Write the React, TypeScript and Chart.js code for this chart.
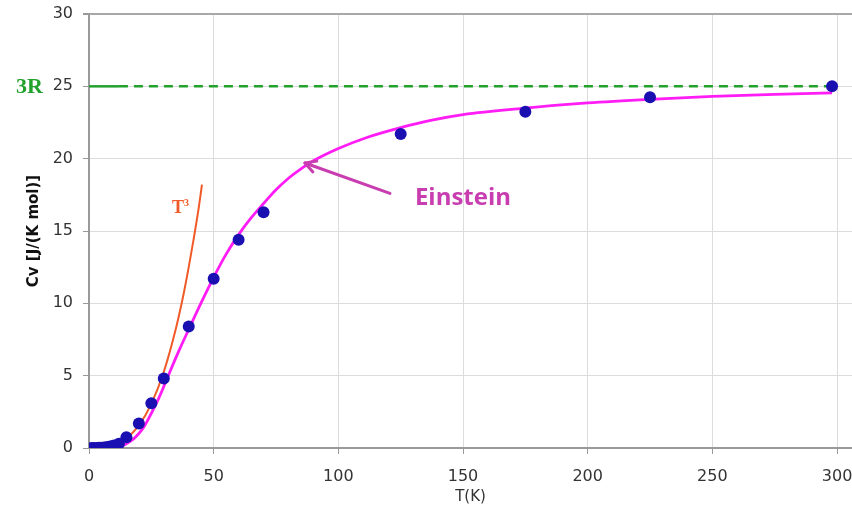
import React, { useEffect, useRef } from "react";
import { Chart, registerables } from "chart.js";

Chart.register(...registerables);

// Measured molar heat capacity, Cv [J/(K mol)] against temperature T [K]
const measuredT = [1, 2, 3, 4, 5, 6, 7, 8, 9, 10, 12, 15, 20, 25, 30, 40, 50, 60, 70, 125, 175, 225, 298];
const measuredCv = [0, 0, 0, 0.01, 0.02, 0.03, 0.05, 0.08, 0.12, 0.18, 0.3, 0.75, 1.7, 3.1, 4.8, 8.4, 11.7, 14.4, 16.3, 21.7, 23.25, 24.25, 25.0];

// Einstein model curve
const einsteinT = [0, 5, 10, 12, 15, 18, 20, 22, 25, 28, 30, 33, 36, 40, 45, 50, 55, 60, 65, 70, 75, 80, 85, 90, 100, 112, 125, 137, 150, 175, 200, 225, 250, 275, 298];
const einsteinCv = [0, 0, 0.02, 0.06, 0.3, 0.65, 1.0, 1.45, 2.4, 3.45, 4.25, 5.5, 6.7, 8.2, 10.05, 11.8, 13.4, 14.75, 15.9, 16.9, 17.85, 18.65, 19.3, 19.85, 20.7, 21.5, 22.15, 22.65, 23.05, 23.5, 23.85, 24.1, 24.3, 24.45, 24.55];

// Low-temperature T^3 law
const cubeT = [0, 5, 10, 15, 20, 25, 30, 35, 38, 40, 42, 44, 45.3];
const cubeCv = [0, 0.02, 0.2, 0.66, 1.56, 3.05, 5.27, 8.37, 10.7, 12.5, 14.47, 16.6, 18.2];

// Dulong–Petit limit, 3R
const limitT = [0, 12, 298];
const limitCv = [25, 25, 25];

const xTicks = [0, 50, 100, 150, 200, 250, 300];
const yTicks = [0, 5, 10, 15, 20, 25, 30];

const BLUE = "#1a10b2";
const MAGENTA = "#ff1cf5";
const ORANGE = "#f05a28";
const GREEN = "#23a12d";
const LABEL_PURPLE = "#c83eb0";
const TICK_FONT = { family: "'DejaVu Sans', Verdana, sans-serif", size: 16 };

// Annotation anchors in data units (T, Cv)
const notes = {
  arrowTip: { t: 86.6, cv: 19.7 },
  arrowTail: { t: 120.7, cv: 17.6 },
  einstein: { t: 130.7, cv: 17.3 },
  cube: { t: 33.3, cv: 16.25 },
};

const toPoints = (xs: number[], ys: number[]) => xs.map((x, i) => ({ x, y: ys[i] }));

const annotate = {
  id: "annotate",
  afterDatasetsDraw(chart: any) {
    const { ctx } = chart;
    const xs = chart.scales.x;
    const ys = chart.scales.y;
    const px = (t: number) => xs.getPixelForValue(t);
    const py = (v: number) => ys.getPixelForValue(v);
    ctx.save();

    // arrow to the Einstein curve
    const tx = px(notes.arrowTip.t);
    const ty = py(notes.arrowTip.cv);
    const sx = px(notes.arrowTail.t);
    const sy = py(notes.arrowTail.cv);
    ctx.strokeStyle = LABEL_PURPLE;
    ctx.lineWidth = 3;
    ctx.lineCap = "round";
    ctx.lineJoin = "round";
    ctx.beginPath();
    ctx.moveTo(sx, sy);
    ctx.lineTo(tx, ty);
    ctx.stroke();
    const ang = Math.atan2(ty - sy, tx - sx);
    const head = 12;
    ctx.beginPath();
    ctx.moveTo(tx - head * Math.cos(ang - 0.5), ty - head * Math.sin(ang - 0.5));
    ctx.lineTo(tx, ty);
    ctx.lineTo(tx - head * Math.cos(ang + 0.5), ty - head * Math.sin(ang + 0.5));
    ctx.stroke();

    ctx.fillStyle = LABEL_PURPLE;
    ctx.font = "bold 24px 'Open Sans', sans-serif";
    ctx.textAlign = "left";
    ctx.textBaseline = "middle";
    ctx.fillText("Einstein", px(notes.einstein.t), py(notes.einstein.cv));

    // T^3 label
    const cx = px(notes.cube.t);
    const cy = py(notes.cube.cv);
    ctx.fillStyle = ORANGE;
    ctx.textBaseline = "alphabetic";
    ctx.font = "bold 18px 'Liberation Serif', serif";
    ctx.fillText("T", cx, cy);
    const w = ctx.measureText("T").width;
    ctx.font = "bold 10px 'Liberation Serif', serif";
    ctx.fillText("3", cx + w, cy - 7);

    // 3R label beside the y axis
    ctx.fillStyle = GREEN;
    ctx.font = "bold 22px 'Liberation Serif', serif";
    ctx.textAlign = "right";
    ctx.textBaseline = "middle";
    ctx.fillText("3R", xs.left - 46, py(25) + 1);

    ctx.restore();
  },
};

export default function App() {
  const canvasRef = useRef<HTMLCanvasElement | null>(null);

  useEffect(() => {
    const canvas = canvasRef.current;
    if (!canvas) return;
    const chart = new Chart(canvas, {
      type: "scatter",
      data: {
        datasets: [
          {
            label: "measured",
            data: toPoints(measuredT, measuredCv),
            showLine: false,
            pointRadius: 6,
            pointBackgroundColor: BLUE,
            pointBorderColor: BLUE,
            pointBorderWidth: 0,
          },
          {
            label: "Einstein",
            data: toPoints(einsteinT, einsteinCv),
            showLine: true,
            pointRadius: 0,
            borderColor: MAGENTA,
            borderWidth: 2.8,
            cubicInterpolationMode: "monotone",
          },
          {
            label: "T3",
            data: toPoints(cubeT, cubeCv),
            showLine: true,
            pointRadius: 0,
            borderColor: ORANGE,
            borderWidth: 2,
            cubicInterpolationMode: "monotone",
          },
          {
            label: "3R",
            data: toPoints(limitT, limitCv),
            showLine: true,
            pointRadius: 0,
            borderColor: GREEN,
            borderWidth: 2.5,
            segment: {
              borderDash: (ctx: any) => (ctx.p0DataIndex === 0 ? [] : [9, 6]),
            },
          },
        ],
      },
      options: {
        animation: false,
        responsive: false,
        layout: { padding: { top: 14, left: 0, right: 0, bottom: 0 }, autoPadding: false },
        plugins: { legend: { display: false }, tooltip: { enabled: false } },
        scales: {
          x: {
            type: "linear",
            min: 0,
            max: 306,
            afterBuildTicks: (s: any) => {
              s.ticks = xTicks.map((v) => ({ value: v }));
            },
            afterFit: (s: any) => {
              s.height = 68;
              s.paddingLeft = 0;
              s.paddingRight = 0;
            },
            ticks: { font: TICK_FONT, color: "#333", padding: 13 },
            grid: { color: "#dcdcdc", tickColor: "#9a9a9a", tickLength: 6, lineWidth: 1 },
            border: { color: "#9a9a9a", width: 2 },
            title: {
              display: true,
              text: "T(K)",
              color: "#333",
              font: { family: "'DejaVu Sans', Verdana, sans-serif", size: 15 },
              padding: { top: 0, bottom: 10 },
            },
          },
          y: {
            type: "linear",
            min: 0,
            max: 30,
            afterBuildTicks: (s: any) => {
              s.ticks = yTicks.map((v) => ({ value: v }));
            },
            afterFit: (s: any) => {
              s.width = 89;
              s.paddingTop = 0;
              s.paddingBottom = 0;
            },
            ticks: { font: TICK_FONT, color: "#333", padding: 10 },
            grid: {
              color: (c: any) => (c.tick && c.tick.value === 30 ? "#a8a8a8" : "#dcdcdc"),
              lineWidth: (c: any) => (c.tick && c.tick.value === 30 ? 2 : 1),
              tickColor: "#9a9a9a",
              tickLength: 6,
            },
            border: { color: "#9a9a9a", width: 2 },
            title: {
              display: true,
              text: "Cv [J/(K mol)]",
              color: "#111",
              font: { family: "'DejaVu Sans', Verdana, sans-serif", size: 15, weight: "bold" },
              padding: { top: 25, bottom: 0 },
            },
          },
        },
      },
      plugins: [annotate],
    });
    return () => chart.destroy();
  }, []);

  return (
    <div style={{ position: "absolute", left: 0, top: 0, width: 852, height: 516, background: "#fff" }}>
      <canvas ref={canvasRef} width={852} height={516} />
    </div>
  );
}
